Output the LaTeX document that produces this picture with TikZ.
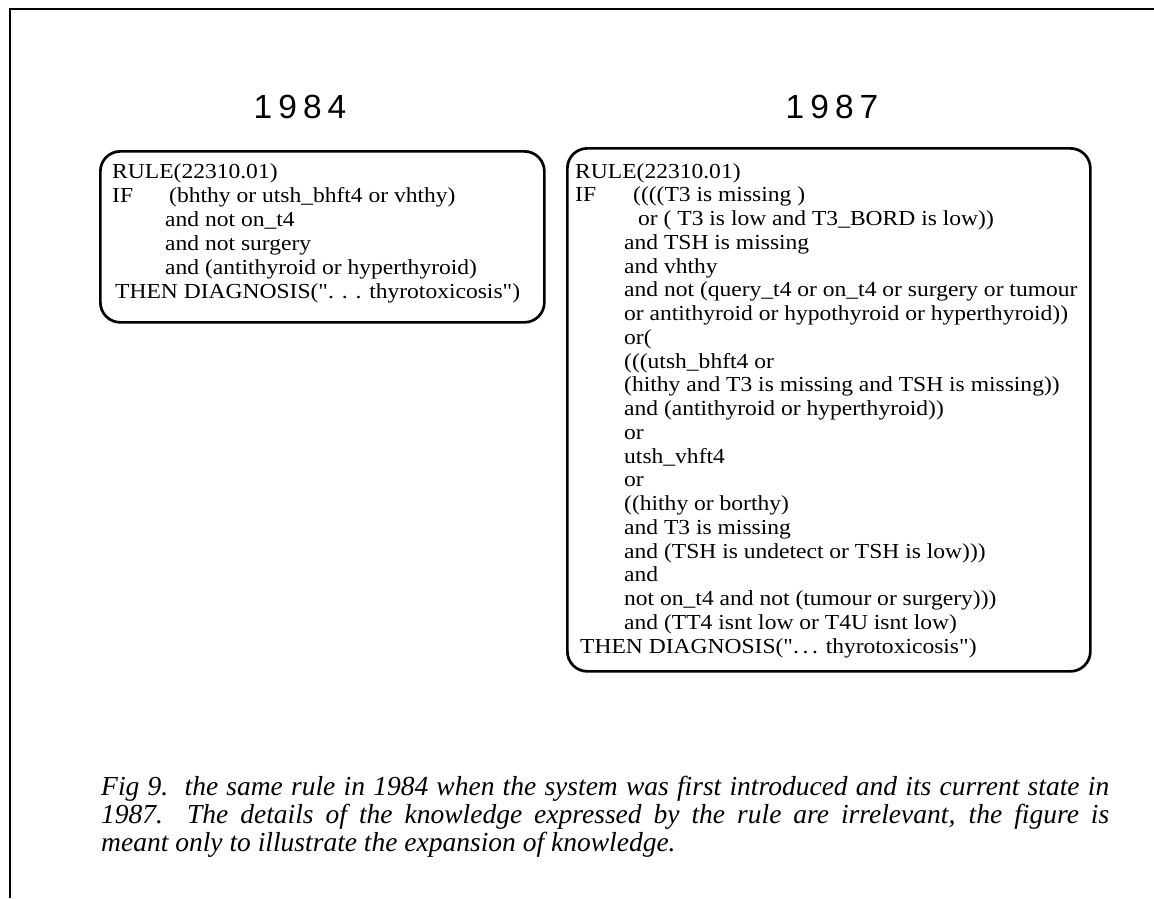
\documentclass[tikz,border=0pt]{standalone}
\usepackage{fontspec}
\setmainfont{Liberation Serif}
\newfontfamily\rulefont[FakeStretch=1.1,Ligatures=TeXOff]{Liberation Serif}
\newfontfamily\capfont{Liberation Serif}
\newfontfamily\titlefont[LetterSpace=18]{Liberation Sans}
\newcommand\myLline[3]{\node[ruletext] (l#2) at (112+#1,178+24*#2-24) {#3};}
\newcommand\myRline[3]{\node[ruletext] (r#2) at (575+#1,178+23.75*#2-23.75) {#3};}
\begin{document}
\begin{tikzpicture}[x=1pt,y=-1pt,
  rulebox/.style={draw, line width=2.7pt, rounded corners=20pt, inner sep=0pt, anchor=north west},
  ruletext/.style={anchor=base west, inner sep=0pt, font=\rulefont\fontsize{21.4}{24}\selectfont},
  yeartext/.style={anchor=base, inner sep=0pt, font=\titlefont\fontsize{33.5}{38}\selectfont},
  captext/.style={anchor=base west, inner sep=0pt, font=\capfont\itshape\fontsize{27.5}{28}\selectfont}]
\useasboundingbox (0,0) rectangle (1154,898);
\fill[white] (0,0) rectangle (1154,898);
% frame
\draw[line width=1.8pt] (10,898) -- (10,9) -- (1154,9);
% titles
\node[yeartext] (y84) at (300,118) {1984};
\node[yeartext] (y87) at (832,118) {1987};
% boxes
\node[rulebox, minimum width=444pt, minimum height=171pt] (box84) at (99,150) {};
\node[rulebox, minimum width=523pt, minimum height=523pt] (box87) at (566,147) {};
% 1984 rule
\myLline{0}{1}{RULE(22310.01)}
\myLline{0}{2}{\makebox[57pt][l]{IF}(bhthy or utsh\_bhft4 or vhthy)}
\myLline{53}{3}{and not on\_t4}
\myLline{53}{4}{and not surgery}
\myLline{53}{5}{and (antithyroid or hyperthyroid)}
\myLline{3}{6}{THEN DIAGNOSIS(". . . thyrotoxicosis")}
% 1987 rule
\myRline{0}{1}{RULE(22310.01)}
\myRline{0}{2}{\makebox[58pt][l]{IF}((((T3 is missing )}
\myRline{63}{3}{or ( T3 is low and T3\_BORD is low))}
\myRline{49}{4}{and TSH is missing}
\myRline{49}{5}{and vhthy}
\myRline{49}{6}{and not (query\_t4 or on\_t4 or surgery or tumour}
\myRline{49}{7}{or antithyroid or hypothyroid or hyperthyroid))}
\myRline{49}{8}{or(}
\myRline{49}{9}{(((utsh\_bhft4 or}
\myRline{49}{10}{(hithy and T3 is missing and TSH is missing))}
\myRline{49}{11}{and (antithyroid or hyperthyroid))}
\myRline{49}{12}{or}
\myRline{49}{13}{utsh\_vhft4}
\myRline{49}{14}{or}
\myRline{49}{15}{((hithy or borthy)}
\myRline{49}{16}{and T3 is missing}
\myRline{49}{17}{and (TSH is undetect or TSH is low)))}
\myRline{49}{18}{and}
\myRline{49}{19}{not on\_t4 and not (tumour or surgery)))}
\myRline{49}{20}{and (TT4 isnt low or T4U isnt low)}
\myRline{5}{21}{THEN DIAGNOSIS(".\,.\,. thyrotoxicosis")}
% caption
\node[captext] (c1) at (101,795) {\makebox[1008pt][s]{Fig 9.\ \ the same rule in 1984 when the system was first introduced and its current state in}};
\node[captext] (c2) at (101,823) {\makebox[1008pt][s]{1987.\ \ The details of the knowledge expressed by the rule are irrelevant, the figure is}};
\node[captext] (c3) at (101,851) {meant only to illustrate the expansion of knowledge.};
\end{tikzpicture}
\end{document}
